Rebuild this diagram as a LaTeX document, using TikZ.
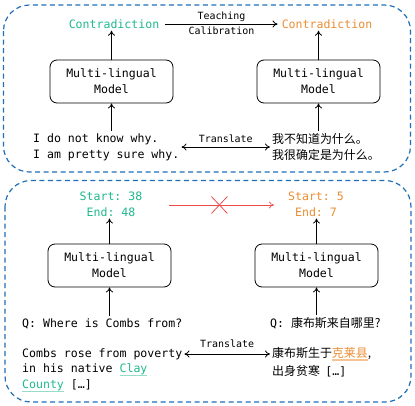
\documentclass[tikz,border=0pt]{standalone}
\usepackage{fontspec}
\setmonofont{DejaVu Sans Mono}
\newfontfamily\cjk{Noto Sans CJK SC}
\usetikzlibrary{arrows.meta,calc}
\definecolor{mgreen}{RGB}{30,185,140}
\definecolor{lgreen}{RGB}{150,220,200}
\definecolor{morange}{RGB}{235,140,50}
\definecolor{lorange}{RGB}{245,195,150}
\definecolor{mred}{RGB}{240,75,75}
\definecolor{mblue}{RGB}{30,110,185}
\newcommand\gul[1]{\setbox0\hbox{#1}\rlap{\textcolor{lgreen}{\rule[-3.2bp]{\wd0}{1.2bp}}}\box0}
\newcommand\oul[1]{\setbox0\hbox{#1}\rlap{\textcolor{lorange}{\rule[-3.2bp]{\wd0}{1.2bp}}}\box0}
\begin{document}
\begin{tikzpicture}[x=1bp,y=-1bp,
  txt/.style={font=\fontsize{11.6}{16}\ttfamily, inner sep=2bp, align=left},
  small/.style={font=\fontsize{10}{12}\ttfamily, inner sep=1bp},
  model/.style={draw, line width=0.8pt, rounded corners=7bp, minimum width=123bp, minimum height=43bp, align=center, font=\fontsize{11.6}{16}\ttfamily, inner sep=0pt},
  frame/.style={draw=mblue, line width=1.2pt, dash pattern=on 5bp off 3.5bp, rounded corners=26bp},
  arr/.style={-{To[length=5bp,width=7bp]}, line width=0.8pt},
  darr/.style={{To[length=5bp,width=7bp]}-{To[length=5bp,width=7bp]}, line width=0.8pt}]
\useasboundingbox (0,0) rectangle (415,406);
% frames
\draw[frame] (3.5,5) rectangle (410.5,172);
\draw[frame] (5,180.5) rectangle (411,402);
% ---------- top part ----------
\node[txt, text=mgreen] (c1) at (114,24) {Contradiction};
\node[txt, text=morange] (c2) at (327,24) {Contradiction};
\node[model] (m1) at (111.5,81.5) {Multi-lingual\\Model};
\node[model] (m2) at (318.5,81.5) {Multi-lingual\\Model};
\node[txt, anchor=west] (s1) at (31,147) {I do not know why.\\I am pretty sure why.};
\node[txt, anchor=west, font=\fontsize{12}{16}\cjk] (s2) at (270,147) {我不知道为什么。\\我很确定是为什么。};
\draw[arr] ($(c1.east)+(4,0)$) -- ($(c2.west)+(-2,0)$) node[midway, above=1bp, small] (lt) {Teaching} node[midway, below=1bp, small] (lc) {Calibration};
\draw[arr] (m1.north) -- (m1 |- c1.south);
\draw[arr] (m2.north) -- (m2 |- c2.south);
\draw[arr] (m1 |- s1.north) -- (m1.south);
\draw[arr] (m2 |- s2.north) -- (m2.south);
\draw[darr] (s1.east) -- (s2.west) node[midway, above=3bp, small] (tr1) {Translate};
% ---------- bottom part ----------
\node[txt, text=mgreen, align=center] (a1) at (111,204) {Start: 38\\End: 48};
\node[txt, text=morange, align=center] (a2) at (316,204) {Start: 5\\End: 7};
\node[model] (m3) at (109.5,265.5) {Multi-lingual\\Model};
\node[model] (m4) at (316.5,265.5) {Multi-lingual\\Model};
\node[txt, anchor=west] (q1) at (20,323.5) {Q: Where is Combs from?};
\node[txt, anchor=west] (q2) at (268,323.5) {Q: {\fontsize{12}{16}\cjk 康布斯来自哪里?}};
\node[txt, anchor=west] (p1) at (20,354) {Combs rose from poverty};
\node[txt, anchor=north west] (p2) at (p1.south west) {in his native \textcolor{mgreen}{\gul{Clay}}\\\textcolor{mgreen}{\gul{County}} […]};
\node[txt, anchor=west, font=\fontsize{12}{16}\cjk] (r1) at (270,354) {康布斯生于\textcolor{morange}{\oul{克莱县}},};
\node[txt, anchor=north west, font=\fontsize{12}{16}\cjk] (r2) at (r1.south west) {出身贫寒\ \ {\ttfamily\fontsize{11.6}{16}\selectfont […]}};
\draw[arr] (m3.north) -- (m3 |- a1.south);
\draw[arr] (m4.north) -- (m4 |- a2.south);
\draw[arr] (m3 |- q1.north) -- (m3.south);
\draw[arr] (m4 |- q2.north) -- (m4.south);
\draw[darr] (p1.east) -- (r1.west) node[midway, above=5bp, small] (tr2) {Translate};
\coordinate (ra) at (169,205);
\coordinate (rb) at (274,205);
\draw[arr, draw=mred, line width=0.7pt] (ra) -- (rb) coordinate[pos=0.48] (xc);
\draw[mred, line width=0.8pt] ($(xc)+(-8,-8.5)$) -- ($(xc)+(8,8.5)$);
\draw[mred, line width=0.8pt] ($(xc)+(-8,8.5)$) -- ($(xc)+(8,-8.5)$);
\end{tikzpicture}
\end{document}
